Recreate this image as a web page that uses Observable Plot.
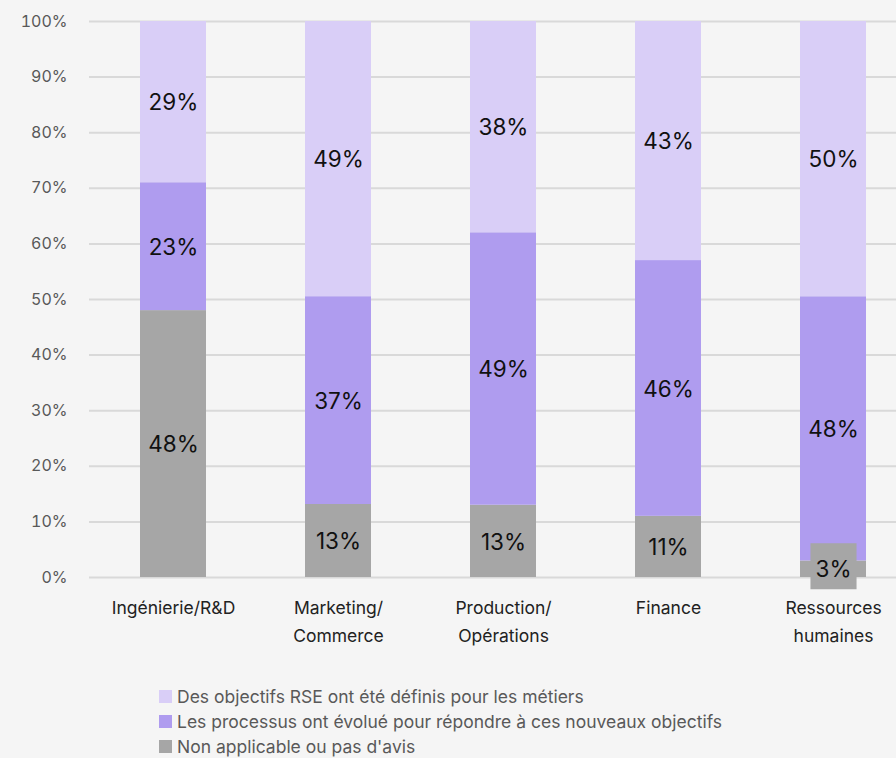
<!DOCTYPE html>
<html>
<head>
<meta charset="utf-8">
<script src="https://cdn.jsdelivr.net/npm/d3@7"></script>
<script src="https://cdn.jsdelivr.net/npm/@observablehq/plot@0.6"></script>
<style>
  html, body { margin: 0; padding: 0; background: #f5f5f5; }
  body { width: 896px; height: 758px; overflow: hidden; font-family: Inter, "Noto Sans", sans-serif; }
  #legend { margin-top: 24px; padding-left: 159px; font-size: 17.5px; color: #595959; }
  .row { height: 25px; line-height: 25px; display: flex; align-items: center; white-space: nowrap; }
  .sw { width: 13px; height: 13px; margin-right: 5px; flex: none; }
</style>
</head>
<body>
<div id="chart"></div>
<div id="legend"></div>
<script>
const categories = ["Ingénierie/R&D", "Marketing/Commerce", "Production/Opérations", "Finance", "Ressources humaines"];
const categoryLabels = ["Ingénierie/R&D", "Marketing/\nCommerce", "Production/\nOpérations", "Finance", "Ressources\nhumaines"];
const series = [
  "Non applicable ou pas d'avis",
  "Les processus ont évolué pour répondre à ces nouveaux objectifs",
  "Des objectifs RSE ont été définis pour les métiers"
];
const nonApplicable = [48, 13, 13, 11, 3];
const processus = [23, 37, 49, 46, 48];
const objectifs = [29, 49, 38, 43, 50];
const colors = ["#a6a6a6", "#af9cef", "#d9cef7"];
const yTicks = [0, 0.1, 0.2, 0.3, 0.4, 0.5, 0.6, 0.7, 0.8, 0.9, 1];
const legendOrder = [2, 1, 0];

const valuesBySeries = [nonApplicable, processus, objectifs];
const data = [];
series.forEach((s, si) => {
  categories.forEach((c, ci) => {
    data.push({category: c, series: s, value: valuesBySeries[si][ci]});
  });
});
const labelOf = new Map(categories.map((c, i) => [c, categoryLabels[i]]));
const stackOpts = {offset: "normalize", order: series};

const chart = Plot.plot({
  width: 896,
  height: 660,
  marginTop: 21,
  marginBottom: 83,
  marginLeft: 89,
  marginRight: 0,
  style: {background: "#f5f5f5", fontFamily: "Inter, 'Noto Sans', sans-serif"},
  x: {domain: categories, range: [89, 916.5], paddingInner: 0.6, paddingOuter: 0.3},
  y: {domain: [0, 1]},
  color: {domain: series, range: colors},
  r: {type: "identity"},
  marks: [
    Plot.ruleY(yTicks, {stroke: "#d9d9d9", strokeWidth: 2}),
    Plot.barY(data, Plot.stackY(stackOpts, {x: "category", y: "value", z: "series", fill: "series"})),
    Plot.dot(data, Plot.stackY(stackOpts, {x: "category", y: "value", z: "series",
      r: d => d.value < 5 ? 26 : 0, symbol: "square", fill: "#a6a6a6", dy: -3})),
    Plot.text(data, Plot.stackY(stackOpts, {x: "category", y: "value", z: "series",
      text: d => d.value + "%", fontSize: 22.5, fill: "#111111", dy: 1})),
    Plot.axisY(yTicks, {tickSize: 0, tickPadding: 22, tickFormat: d3.format(".0%"), fontSize: 16, fill: "#595959", label: null}),
    Plot.axisX({tickSize: 0, tickPadding: 17, tickFormat: d => labelOf.get(d), fontSize: 17.5, lineHeight: 1.6, fill: "#222222", label: null})
  ]
});
document.getElementById("chart").appendChild(chart);

const legend = document.getElementById("legend");
legendOrder.forEach(i => {
  const row = document.createElement("div");
  row.className = "row";
  const sw = document.createElement("span");
  sw.className = "sw";
  sw.style.background = colors[i];
  const tx = document.createElement("span");
  tx.textContent = series[i];
  row.appendChild(sw);
  row.appendChild(tx);
  legend.appendChild(row);
});
</script>
</body>
</html>
